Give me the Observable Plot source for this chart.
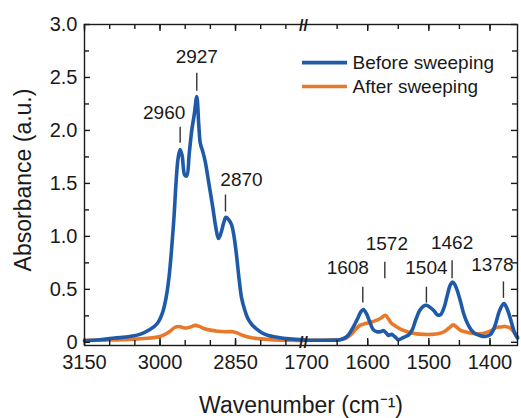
<!DOCTYPE html>
<html>
<head>
<meta charset="utf-8">
<script src="https://cdn.jsdelivr.net/npm/d3@7"></script>
<script src="https://cdn.jsdelivr.net/npm/@observablehq/plot@0.6"></script>
<style>
  html, body { margin: 0; padding: 0; background: #fff; }
  #chart { width: 521px; height: 418px; }
</style>
</head>
<body>
<div id="chart"></div>
<script>
// ---------------- DATA ----------------
const seriesNames = ["Before sweeping", "After sweeping"];
const seriesColors = ["#1f5aa8", "#e8792a"];

// C–H stretching region (left segment)
const beforeLeftWn  = [3150,3120,3090,3060,3040,3020,3005,2995,2988,2982,2977,2972,2968,2964,2960,2956,2951,2947,2942,2937,2932,2927,2923,2920,2915,2910,2903,2896,2889,2884,2879,2874,2869,2864,2858,2853,2848,2843,2838,2832,2826,2818,2808,2798,2785,2770,2750,2730,2715];
const beforeLeftAbs = [0.015,0.025,0.04,0.055,0.075,0.12,0.18,0.28,0.42,0.62,0.88,1.20,1.52,1.74,1.82,1.76,1.58,1.57,1.78,2.00,2.15,2.32,2.05,1.88,1.80,1.70,1.50,1.30,1.08,0.98,1.03,1.12,1.18,1.16,1.11,1.00,0.82,0.60,0.42,0.31,0.23,0.17,0.125,0.09,0.065,0.05,0.035,0.028,0.025];
const afterLeftWn   = [3150,3100,3050,3020,3000,2990,2980,2971,2963,2955,2948,2940,2930,2922,2913,2900,2886,2870,2855,2845,2835,2820,2805,2780,2750,2715];
const afterLeftAbs  = [0.02,0.022,0.03,0.04,0.055,0.075,0.105,0.14,0.15,0.14,0.135,0.145,0.16,0.15,0.13,0.115,0.105,0.10,0.10,0.085,0.065,0.045,0.035,0.025,0.02,0.018];

// fingerprint region (right segment)
const beforeRightWn  = [1705,1680,1660,1645,1635,1628,1622,1616,1611,1607,1602,1597,1591,1585,1579,1574,1570,1566,1561,1556,1550,1545,1540,1533,1527,1521,1515,1509,1504,1498,1492,1486,1481,1475,1470,1465,1461,1457,1453,1448,1443,1437,1431,1424,1417,1408,1400,1395,1390,1385,1380,1377,1373,1368,1363,1359,1355];
const beforeRightAbs = [0.02,0.02,0.02,0.025,0.05,0.10,0.16,0.23,0.29,0.31,0.27,0.20,0.12,0.10,0.10,0.11,0.09,0.065,0.075,0.055,0.025,0.035,0.05,0.07,0.12,0.22,0.30,0.34,0.35,0.33,0.30,0.26,0.26,0.33,0.44,0.54,0.57,0.54,0.48,0.38,0.27,0.18,0.12,0.08,0.065,0.055,0.07,0.11,0.19,0.29,0.35,0.365,0.33,0.25,0.15,0.08,0.04];
const afterRightWn   = [1705,1670,1645,1635,1628,1620,1613,1605,1595,1585,1578,1571,1566,1561,1555,1548,1540,1530,1520,1508,1495,1485,1475,1467,1460,1454,1447,1438,1428,1415,1405,1398,1390,1382,1375,1369,1364,1359,1355];
const afterRightAbs  = [0.02,0.02,0.025,0.04,0.07,0.12,0.16,0.175,0.19,0.21,0.23,0.255,0.22,0.18,0.155,0.13,0.11,0.09,0.08,0.075,0.075,0.08,0.10,0.135,0.165,0.14,0.11,0.095,0.085,0.08,0.095,0.11,0.14,0.145,0.15,0.14,0.12,0.08,0.05];

// peak annotations
const peakWn     = [2960, 2927, 2870, 1608, 1572, 1504, 1462, 1378];
const peakLabels = ["2960","2927","2870","1608","1572","1504","1462","1378"];
const peakTickLo = [1.88, 2.37, 1.23, 0.37, 0.60, 0.37, 0.60, 0.415];
const peakTickHi = [2.03, 2.54, 1.39, 0.52, 0.755, 0.52, 0.77, 0.57];
const peakLabelY = [2.17, 2.69, 1.53, 0.70, 0.93, 0.70, 0.94, 0.73];
const peakLabelDx = [-16, 0, 16, -15, 2, 0, 0, -11];

// axis ticks
const xTickWn   = [3150,3100,3050,3000,2950,2900,2850,2800,2750, 1650,1600,1550,1500,1450,1400];
const xLabelWn  = [3150,3000,2850,1700,1600,1500,1400];
const xMajorWn  = [3150,3000,2850,1600,1500,1400];
const yMajor = [0,0.5,1.0,1.5,2.0,2.5,3.0];
const yMinor = [0.25,0.75,1.25,1.75,2.25,2.75];

// ---------------- LAYOUT ----------------
const W = 521, H = 418;
const mL = 84, mR = 4, mT = 24, mB = 73;
const frameW = W - mL - mR, frameH = H - mT - mB;
// broken axis: each wavenumber segment is given its share of the frame width
const segs = [
  {hi: 3150, lo: 2715, u0: 0, u1: 219},
  {hi: 1705, lo: 1355, u0: 219, u1: frameW}
];
const breakU = 219;
function toU(wn) {
  const s = wn > 2000 ? segs[0] : segs[1];
  return s.u0 + (s.hi - wn) / (s.hi - s.lo) * (s.u1 - s.u0);
}
function fromU(u) {
  const s = u < breakU ? segs[0] : segs[1];
  return s.hi - (u - s.u0) / (s.u1 - s.u0) * (s.hi - s.lo);
}
const zip = (wn, a) => wn.map((w, i) => ({u: toU(w), a: a[i]}));

const beforeL = zip(beforeLeftWn, beforeLeftAbs);
const afterL  = zip(afterLeftWn, afterLeftAbs);
const beforeR = zip(beforeRightWn, beforeRightAbs);
const afterR  = zip(afterRightWn, afterRightAbs);

const peaks = peakWn.map((w, i) => ({u: toU(w), lo: peakTickLo[i], hi: peakTickHi[i], ly: peakLabelY[i], dx: peakLabelDx[i], label: peakLabels[i]}));

const legend = seriesNames.map((n, i) => ({name: n, color: seriesColors[i], y: [2.64, 2.415][i]}));

const ink = "#1a1a1a";
const lineOpts = (c) => ({x: "u", y: "a", stroke: c, strokeWidth: 3.6, curve: "catmull-rom", strokeLinejoin: "round"});

const xTickU = xTickWn.map(toU);
const xMajorU = xMajorWn.map(toU);
const xLabelU = xLabelWn.map(toU);

const chart = Plot.plot({
  width: W, height: H,
  marginLeft: mL, marginRight: mR, marginTop: mT, marginBottom: mB,
  style: {fontFamily: "'Liberation Sans', Arial, sans-serif", fontSize: "20px", color: ink, background: "#fff"},
  x: {type: "linear", domain: [0, frameW]},
  y: {type: "linear", domain: [-0.03, 3.0]},
  marks: [
    // curves
    Plot.line(afterL, lineOpts(seriesColors[1])),
    Plot.line(afterR, lineOpts(seriesColors[1])),
    Plot.line(beforeL, lineOpts(seriesColors[0])),
    Plot.line(beforeR, lineOpts(seriesColors[0])),
    // frame
    Plot.frame({stroke: ink, strokeWidth: 1.4}),
    // bottom & top ticks (inward)
    Plot.ruleX(xTickU, {x: d => d, insetTop: frameH - 5, stroke: ink, strokeWidth: 1.4}),
    Plot.ruleX(xMajorU, {x: d => d, insetTop: frameH - 7, stroke: ink, strokeWidth: 1.4}),
    Plot.ruleX(xTickU, {x: d => d, insetBottom: frameH - 5, stroke: ink, strokeWidth: 1.4}),
    Plot.ruleX(xMajorU, {x: d => d, insetBottom: frameH - 7, stroke: ink, strokeWidth: 1.4}),
    // left & right ticks (inward)
    Plot.ruleY(yMajor, {y: d => d, insetRight: frameW - 6, stroke: ink, strokeWidth: 1.4}),
    Plot.ruleY(yMinor, {y: d => d, insetRight: frameW - 5, stroke: ink, strokeWidth: 1.4}),
    Plot.ruleY(yMajor, {y: d => d, insetLeft: frameW - 6, stroke: ink, strokeWidth: 1.4}),
    Plot.ruleY(yMinor, {y: d => d, insetLeft: frameW - 5, stroke: ink, strokeWidth: 1.4}),
    // tick labels
    Plot.axisY(yMajor, {tickSize: 0, tickPadding: 7, fontSize: 20, label: null, tickFormat: d => d === 0 ? "0" : d.toFixed(1)}),
    Plot.axisX(xLabelU, {tickSize: 0, tickPadding: 9, fontSize: 20, label: null, tickFormat: d => String(Math.round(fromU(d) / 50) * 50)}),
    // axis break marks
    Plot.text(["//"], {x: () => breakU, frameAnchor: "top", lineAnchor: "middle", fontSize: 16, fontWeight: "bold", fill: ink, dy: 1}),
    Plot.text(["//"], {x: () => breakU, frameAnchor: "bottom", lineAnchor: "middle", fontSize: 16, fontWeight: "bold", fill: ink, dy: -3}),
    // axis titles
    Plot.text(["Absorbance (a.u.)"], {frameAnchor: "left", textAnchor: "middle", lineAnchor: "middle", dx: -61, dy: -5, rotate: -90, fontSize: 23, fill: ink}),
    Plot.text(["Wavenumber (cm\u207B\u00B9)"], {frameAnchor: "bottom", textAnchor: "middle", lineAnchor: "middle", dy: 60, fontSize: 23, fill: ink}),
    // peak annotations
    Plot.ruleX(peaks, {x: "u", y1: "lo", y2: "hi", stroke: "#333", strokeWidth: 1.4}),
    Plot.text(peaks, {x: d => d.u + d.dx, y: "ly", text: "label", fontSize: 19, fill: ink}),
    // legend
    Plot.ruleY(legend, {y: "y", x1: () => 218, x2: () => 263, stroke: "color", strokeWidth: 3.6}),
    Plot.text(legend, {x: () => 268, y: "y", text: "name", textAnchor: "start", fontSize: 19, fill: ink})
  ]
});
document.getElementById("chart").appendChild(chart);
</script>
</body>
</html>
